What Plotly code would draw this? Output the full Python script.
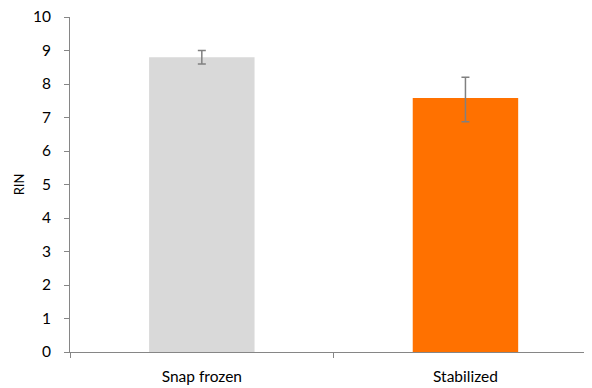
import plotly.graph_objects as go

categories = ["Snap frozen", "Stabilized"]
rin_values = [8.8, 7.58]
err_plus = [0.2, 0.62]
err_minus = [0.2, 0.71]
bar_colors = ["#d9d9d9", "#ff7100"]
y_ticks = list(range(0, 11))

fig = go.Figure(
    go.Bar(
        x=categories,
        y=rin_values,
        width=0.4,
        marker=dict(color=bar_colors, line=dict(width=0)),
        error_y=dict(
            type="data",
            symmetric=False,
            array=err_plus,
            arrayminus=err_minus,
            color="#808080",
            thickness=1.5,
            width=4,
        ),
    )
)

font = dict(family="Lato", size=15.5, color="#000000")
title_font = dict(family="Lato", size=13, color="#000000")

fig.update_layout(
    width=592,
    height=388,
    margin=dict(l=62, r=8, t=9, b=44),
    paper_bgcolor="white",
    plot_bgcolor="white",
    showlegend=False,
    font=font,
    xaxis=dict(
        type="category",
        range=[-0.5, 1.48],
        automargin=False,
        showline=True,
        linecolor="#868686",
        linewidth=1,
        ticks="outside",
        tickson="boundaries",
        ticklen=5,
        tickcolor="#868686",
        showgrid=False,
        zeroline=False,
        ticklabelstandoff=10,
        ticklabeloverflow="allow",
        tickfont=font,
    ),
    yaxis=dict(
        range=[0, 10],
        tickvals=y_ticks,
        automargin=False,
        showline=True,
        linecolor="#868686",
        linewidth=1,
        ticks="outside",
        ticklen=5,
        tickcolor="#868686",
        showgrid=False,
        zeroline=False,
        ticklabelstandoff=10,
        ticklabeloverflow="allow",
        tickfont=font,
        title=dict(text="RIN", font=title_font, standoff=5),
    ),
)

fig.write_html("out.html")
